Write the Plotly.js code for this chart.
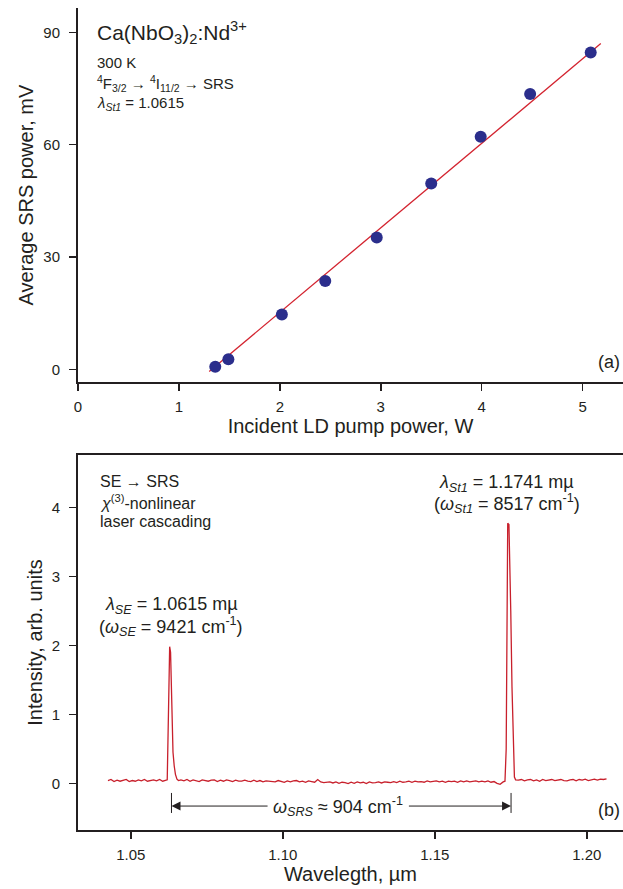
<!DOCTYPE html>
<html>
<head>
<meta charset="utf-8">
<script src="https://cdn.plot.ly/plotly-3.0.1.min.js"></script>
<style>html,body{margin:0;padding:0;background:#fff;}#chart{width:623px;height:889px;}</style>
</head>
<body>
<div id="chart"></div>
<script>
// ---------- Panel (a): SRS power vs pump power ----------
const pumpPower = [1.36, 1.49, 2.02, 2.45, 2.96, 3.50, 3.99, 4.48, 5.08];
const srsPower  = [0.7, 2.7, 14.6, 23.6, 35.2, 49.6, 62.1, 73.5, 84.6];
const fitPump   = [1.30, 5.18];
const fitSrs    = [-0.6, 87.0];
const xTicksA   = [0, 1, 2, 3, 4, 5];
const yTicksA   = [0, 30, 60, 90];

// ---------- Panel (b): emission spectrum ----------
const specWl = [
  1.0425,1.0435,1.0445,1.0455,1.0465,1.0475,1.0485,1.0495,1.0505,1.0515,
  1.0525,1.0535,1.0545,1.0555,1.0565,1.0575,1.0585,1.0595,1.0605,1.0615,
  1.0620,1.0624,1.0628,1.0631,1.0635,1.0639,1.0643,1.0647,1.0652,1.0657,
  1.0665,1.0675,1.0685,1.0695,1.0705,1.0715,1.0725,1.0735,1.0745,1.0755,
  1.0765,1.0775,1.0785,1.0795,1.0805,1.0815,1.0825,1.0835,1.0845,1.0855,
  1.0865,1.0875,1.0885,1.0895,1.0905,1.0915,1.0925,1.0935,1.0945,1.0955,
  1.0965,1.0975,1.0985,1.0995,1.1005,1.1015,1.1025,1.1035,1.1045,1.1055,
  1.1065,1.1075,1.1085,1.1095,1.1105,1.1115,1.1125,1.1135,1.1145,1.1155,
  1.1165,1.1175,1.1185,1.1195,1.1205,1.1215,1.1225,1.1235,1.1245,1.1255,
  1.1265,1.1275,1.1285,1.1295,1.1305,1.1315,1.1325,1.1335,1.1345,1.1355,
  1.1365,1.1375,1.1385,1.1395,1.1405,1.1415,1.1425,1.1435,1.1445,1.1455,
  1.1465,1.1475,1.1485,1.1495,1.1505,1.1515,1.1525,1.1535,1.1545,1.1555,
  1.1565,1.1575,1.1585,1.1595,1.1605,1.1615,1.1625,1.1635,1.1645,1.1655,
  1.1665,1.1675,1.1685,1.1695,1.1705,1.1715,1.1725,
  1.1731,1.1735,1.1738,1.1740,1.1744,1.1747,1.1750,1.1754,1.1758,1.1762,1.1766,
  1.1775,1.1785,1.1795,1.1805,1.1815,1.1825,1.1835,1.1845,1.1855,1.1865,
  1.1875,1.1885,1.1895,1.1905,1.1915,1.1925,1.1935,1.1945,1.1955,1.1965,
  1.1975,1.1985,1.1995,1.2005,1.2015,1.2025,1.2035,1.2045,1.2055,1.2065
];
const specInt = [
  0.040,0.055,0.025,0.045,0.030,0.045,0.055,0.025,0.040,0.030,
  0.050,0.035,0.055,0.030,0.045,0.050,0.035,0.055,0.030,0.050,
  0.050,1.000,1.980,1.900,1.000,0.450,0.250,0.130,0.060,0.040,
  0.050,0.035,0.055,0.030,0.050,0.040,0.025,0.050,0.040,0.030,
  0.045,0.050,0.025,0.045,0.030,0.050,0.040,0.025,0.045,0.030,
  0.030,0.045,0.030,0.025,0.045,0.025,0.040,0.020,0.035,0.030,
  0.035,0.020,0.040,0.030,0.015,0.035,0.020,0.035,0.040,0.020,
  0.030,0.015,0.035,0.025,0.015,0.055,0.020,0.010,0.015,0.020,
  0.005,0.020,0.000,0.015,0.010,-0.005,0.015,0.000,0.020,0.005,
  0.015,-0.005,0.020,0.005,0.010,0.020,0.005,0.020,0.015,0.010,
  0.025,0.010,0.030,0.015,0.020,0.030,0.015,0.030,0.020,0.025,
  0.015,0.035,0.020,0.025,0.035,0.020,0.030,0.015,0.030,0.025,
  0.030,0.015,0.035,0.020,0.035,0.020,0.025,0.035,0.020,0.030,
  0.020,0.035,0.015,0.025,0.000,-0.015,0.020,
  0.030,0.500,3.000,3.770,3.750,3.300,2.500,1.400,0.500,0.090,0.050,
  0.045,0.055,0.035,0.050,0.055,0.035,0.050,0.030,0.055,0.040,
  0.045,0.055,0.040,0.045,0.055,0.040,0.035,0.050,0.055,0.035,
  0.055,0.045,0.060,0.040,0.055,0.060,0.045,0.060,0.055,0.065
];
const xTicksB    = [1.05, 1.10, 1.15, 1.20];
const xTickTextB = ['1.05', '1.10', '1.15', '1.20'];
const yTicksB    = [0, 1, 2, 3, 4];
const peakEdges  = [1.0634, 1.1751];   // bracket marks for the Raman shift

const INK = '#231f20';
const FONT = 'Liberation Sans, Arial, Helvetica, sans-serif';

const traces = [
  { x: fitPump, y: fitSrs, type: 'scatter', mode: 'lines',
    line: { color: '#d3232f', width: 1.3 }, xaxis: 'x', yaxis: 'y', hoverinfo: 'skip' },
  { x: pumpPower, y: srsPower, type: 'scatter', mode: 'markers',
    marker: { color: '#2b2e8c', size: 12 }, xaxis: 'x', yaxis: 'y' },
  { x: specWl, y: specInt, type: 'scatter', mode: 'lines',
    line: { color: '#c8202c', width: 1.3 }, xaxis: 'x2', yaxis: 'y2' }
];

const axisCommon = {
  showline: true, linewidth: 2, linecolor: INK, showgrid: false, zeroline: false,
  ticks: 'outside', ticklen: 7, tickwidth: 1.5, tickcolor: INK,
  tickfont: { family: FONT, size: 15, color: INK }, automargin: false
};

const arrowY = -0.33;
const titleFont = { family: FONT, size: 20, color: INK };
const annFont = { family: FONT, size: 16, color: INK };
const smallFont = { family: FONT, size: 15, color: INK };
const bigFont = { family: FONT, size: 18, color: INK };

const layout = {
  width: 623, height: 889,
  margin: { l: 78, r: 0, t: 8, b: 59 },
  paper_bgcolor: '#ffffff', plot_bgcolor: 'rgba(0,0,0,0)',
  showlegend: false,
  font: { family: FONT, color: INK },
  xaxis: Object.assign({}, axisCommon, {
    domain: [0, 1], anchor: 'y', range: [0, 5.4], tickvals: xTicksA,
    ticklabelstandoff: 3,
    title: { text: 'Incident LD pump power, W', font: titleFont, standoff: 4 }
  }),
  yaxis: Object.assign({}, axisCommon, {
    domain: [0.5447, 1], anchor: 'x', range: [-3.47, 96.5], tickvals: yTicksA,
    ticklabelstandoff: 6,
    title: { text: 'Average SRS power, mV', font: titleFont, standoff: 4 }
  }),
  xaxis2: Object.assign({}, axisCommon, {
    domain: [0, 1], anchor: 'y2', range: [1.03265, 1.21192], tickvals: xTicksB, ticktext: xTickTextB,
    mirror: true, ticklabelstandoff: 3,
    title: { text: 'Wavelegth, µm', font: titleFont, standoff: 4 }
  }),
  yaxis2: Object.assign({}, axisCommon, {
    domain: [0, 0.4562], anchor: 'x2', range: [-0.677, 4.758], tickvals: yTicksB,
    ticklabelstandoff: 6,
    title: { text: 'Intensity, arb. units', font: titleFont, standoff: 4 }
  }),
  shapes: [
    { type: 'line', xref: 'x2', yref: 'y2', x0: peakEdges[0], x1: peakEdges[0], y0: -0.14, y1: -0.43,
      line: { color: INK, width: 1 } },
    { type: 'line', xref: 'x2', yref: 'y2', x0: peakEdges[1], x1: peakEdges[1], y0: -0.14, y1: -0.43,
      line: { color: INK, width: 1 } }
  ],
  annotations: [
    // panel (a) texts
    { xref: 'paper', yref: 'paper', x: 0.031, y: 0.9699, xanchor: 'left', yanchor: 'middle', showarrow: false,
      text: 'Ca(NbO<sub>3</sub>)<sub>2</sub>:Nd<sup>3+</sup>', font: { family: FONT, size: 21, color: INK } },
    { xref: 'paper', yref: 'paper', x: 0.031, y: 0.9343, xanchor: 'left', yanchor: 'middle', showarrow: false,
      text: '300 K', font: smallFont },
    { xref: 'paper', yref: 'paper', x: 0.031, y: 0.9076, xanchor: 'left', yanchor: 'middle', showarrow: false,
      text: '<sup>4</sup>F<sub>3/2</sub> → <sup>4</sup>I<sub>11/2</sub> → SRS', font: smallFont },
    { xref: 'paper', yref: 'paper', x: 0.031, y: 0.8836, xanchor: 'left', yanchor: 'middle', showarrow: false,
      text: '<i>λ</i><sub><i>St1</i></sub> = 1.0615', font: smallFont },
    { xref: 'paper', yref: 'paper', x: 0.998, y: 0.5696, xanchor: 'right', yanchor: 'middle', showarrow: false,
      text: '(a)', font: bigFont },
    // panel (b) texts
    { xref: 'paper', yref: 'paper', x: 0.036, y: 0.4235, xanchor: 'left', yanchor: 'middle', showarrow: false,
      text: 'SE → SRS', font: annFont },
    { xref: 'paper', yref: 'paper', x: 0.036, y: 0.3991, xanchor: 'left', yanchor: 'middle', showarrow: false,
      text: '<i>χ</i><sup>(3)</sup>-nonlinear', font: annFont },
    { xref: 'paper', yref: 'paper', x: 0.036, y: 0.3748, xanchor: 'left', yanchor: 'middle', showarrow: false,
      text: 'laser cascading', font: annFont },
    { xref: 'paper', yref: 'paper', x: 0.1713, y: 0.2737, xanchor: 'center', yanchor: 'middle', showarrow: false,
      text: '<i>λ</i><sub><i>SE</i></sub> = 1.0615 mµ', font: bigFont },
    { xref: 'paper', yref: 'paper', x: 0.1713, y: 0.2473, xanchor: 'center', yanchor: 'middle', showarrow: false,
      text: '(<i>ω</i><sub><i>SE</i></sub> = 9421 cm<sup>-1</sup>)', font: bigFont },
    { xref: 'paper', yref: 'paper', x: 0.7868, y: 0.4221, xanchor: 'center', yanchor: 'middle', showarrow: false,
      text: '<i>λ</i><sub><i>St1</i></sub> = 1.1741 mµ', font: bigFont },
    { xref: 'paper', yref: 'paper', x: 0.7868, y: 0.3966, xanchor: 'center', yanchor: 'middle', showarrow: false,
      text: '(<i>ω</i><sub><i>St1</i></sub> = 8517 cm<sup>-1</sup>)', font: bigFont },
    { xref: 'paper', yref: 'paper', x: 0.998, y: 0.0243, xanchor: 'right', yanchor: 'middle', showarrow: false,
      text: '(b)', font: bigFont },
    // Raman shift arrow
    { xref: 'x2', yref: 'y2', x: 1.1181, y: arrowY, xanchor: 'center', yanchor: 'middle', showarrow: false,
      text: '<i>ω</i><sub><i>SRS</i></sub> ≈ 904 cm<sup>-1</sup>', font: bigFont },
    { xref: 'x2', yref: 'y2', axref: 'x2', ayref: 'y2', x: peakEdges[0], y: arrowY, ax: 1.0955, ay: arrowY,
      text: '', showarrow: true, arrowhead: 2, arrowsize: 1.8, arrowwidth: 1, arrowcolor: INK, standoff: 0, startstandoff: 0 },
    { xref: 'x2', yref: 'y2', axref: 'x2', ayref: 'y2', x: peakEdges[1], y: arrowY, ax: 1.1410, ay: arrowY,
      text: '', showarrow: true, arrowhead: 2, arrowsize: 1.8, arrowwidth: 1, arrowcolor: INK, standoff: 0, startstandoff: 0 }
  ]
};

Plotly.newPlot('chart', traces, layout, { staticPlot: true, displayModeBar: false });
</script>
</body>
</html>
